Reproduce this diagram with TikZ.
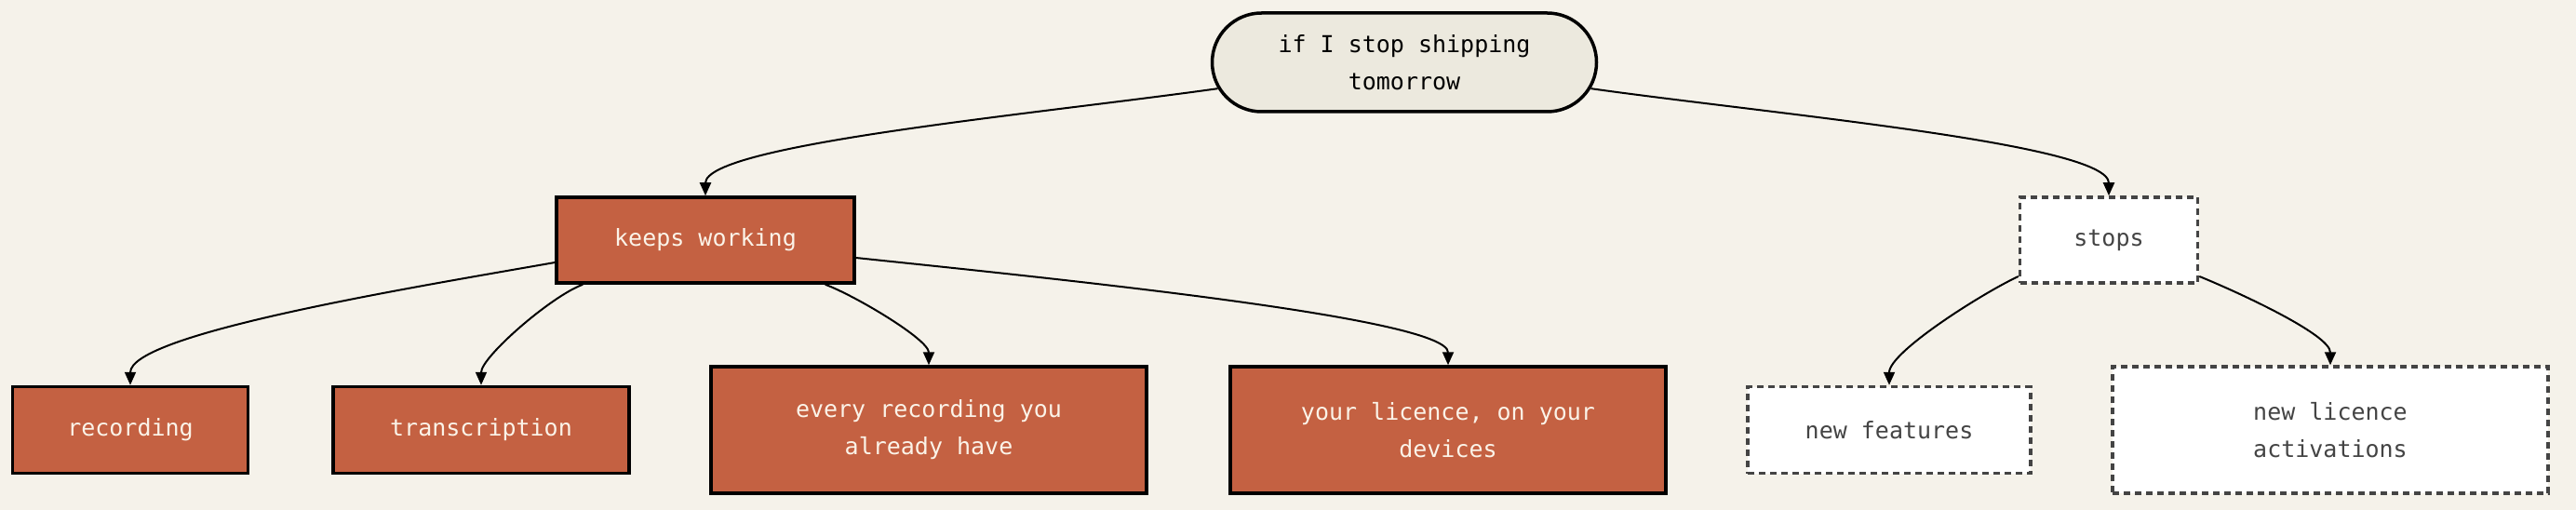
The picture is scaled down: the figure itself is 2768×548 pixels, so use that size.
\documentclass[tikz,border=0pt]{standalone}
\usepackage{fontspec}
\setmonofont{DejaVu Sans Mono}
\usetikzlibrary{shapes.misc,arrows.meta}
\definecolor{bg}{HTML}{F5F2EA}
\definecolor{pill}{HTML}{ECE9DE}
\definecolor{terra}{HTML}{C46142}
\definecolor{cream}{HTML}{FBF3E8}
\definecolor{dgray}{HTML}{444444}
\begin{document}
\begin{tikzpicture}[x=1pt,y=-1pt,
  every node/.style={font=\ttfamily\fontsize{25}{40}\selectfont, align=center, inner sep=0pt},
  pillbox/.style={rounded rectangle, fill=pill, draw=black, line width=3.5pt, text=black},
  kept/.style={rectangle, fill=terra, draw=black, line width=3.5pt, text=cream},
  gone/.style={rectangle, fill=white, draw=dgray, line width=3.5pt, dash pattern=on 7pt off 5pt, text=dgray},
  arr/.style={draw=black, line width=2pt, -{Triangle[length=14pt,width=12pt]}}]
\fill[bg] (0,0) rectangle (2768,548);
\useasboundingbox (0,0) rectangle (2768,548);
\node[pillbox, minimum width=413pt, minimum height=106pt] (top) at (1509,67) {if I stop shipping\\tomorrow};
\node[kept, minimum width=320pt, minimum height=92pt] (keep) at (758,258) {keeps working};
\node[gone, minimum width=191pt, minimum height=92pt] (stop) at (2266,258) {stops};
\node[kept, minimum width=253pt, minimum height=93pt] (rec) at (140,462) {recording};
\node[kept, minimum width=318pt, minimum height=93pt] (tr) at (517,462) {transcription};
\node[kept, minimum width=468pt, minimum height=136pt] (every) at (998,462) {every recording you\\already have};
\node[kept, minimum width=468pt, minimum height=136pt] (lic) at (1556,462) {your licence, on your\\devices};
\node[gone, minimum width=304pt, minimum height=93pt] (feat) at (2030,462) {new features};
\node[gone, minimum width=468pt, minimum height=136pt] (act) at (2504,462) {new licence\\activations};
\draw[arr] (top.188) to[out=188,in=90,out looseness=0.9,in looseness=0.25] (keep.north);
\draw[arr] (top.-8) to[out=-8,in=90,out looseness=0.9,in looseness=0.25] (stop.north);
\draw[arr] (keep.west |- 0,282) to[out=190,in=90,out looseness=0.8,in looseness=0.3] (rec.north);
\draw[arr] (keep.south west) ++(30,0) coordinate (k1) (k1) to[out=200,in=90,out looseness=0.6,in looseness=0.5] (tr.north);
\draw[arr] (keep.south east) ++(-33,0) coordinate (k2) (k2) to[out=-20,in=90,out looseness=0.6,in looseness=0.5] (every.north);
\draw[arr] (keep.east |- 0,277) to[out=-6,in=90,out looseness=0.85,in looseness=0.2] (lic.north);
\draw[arr] (stop.west |- 0,297) to[out=205,in=90,out looseness=0.6,in looseness=0.5] (feat.north);
\draw[arr] (stop.east |- 0,297) to[out=-22,in=90,out looseness=0.6,in looseness=0.5] (act.north);
\end{tikzpicture}
\end{document}
